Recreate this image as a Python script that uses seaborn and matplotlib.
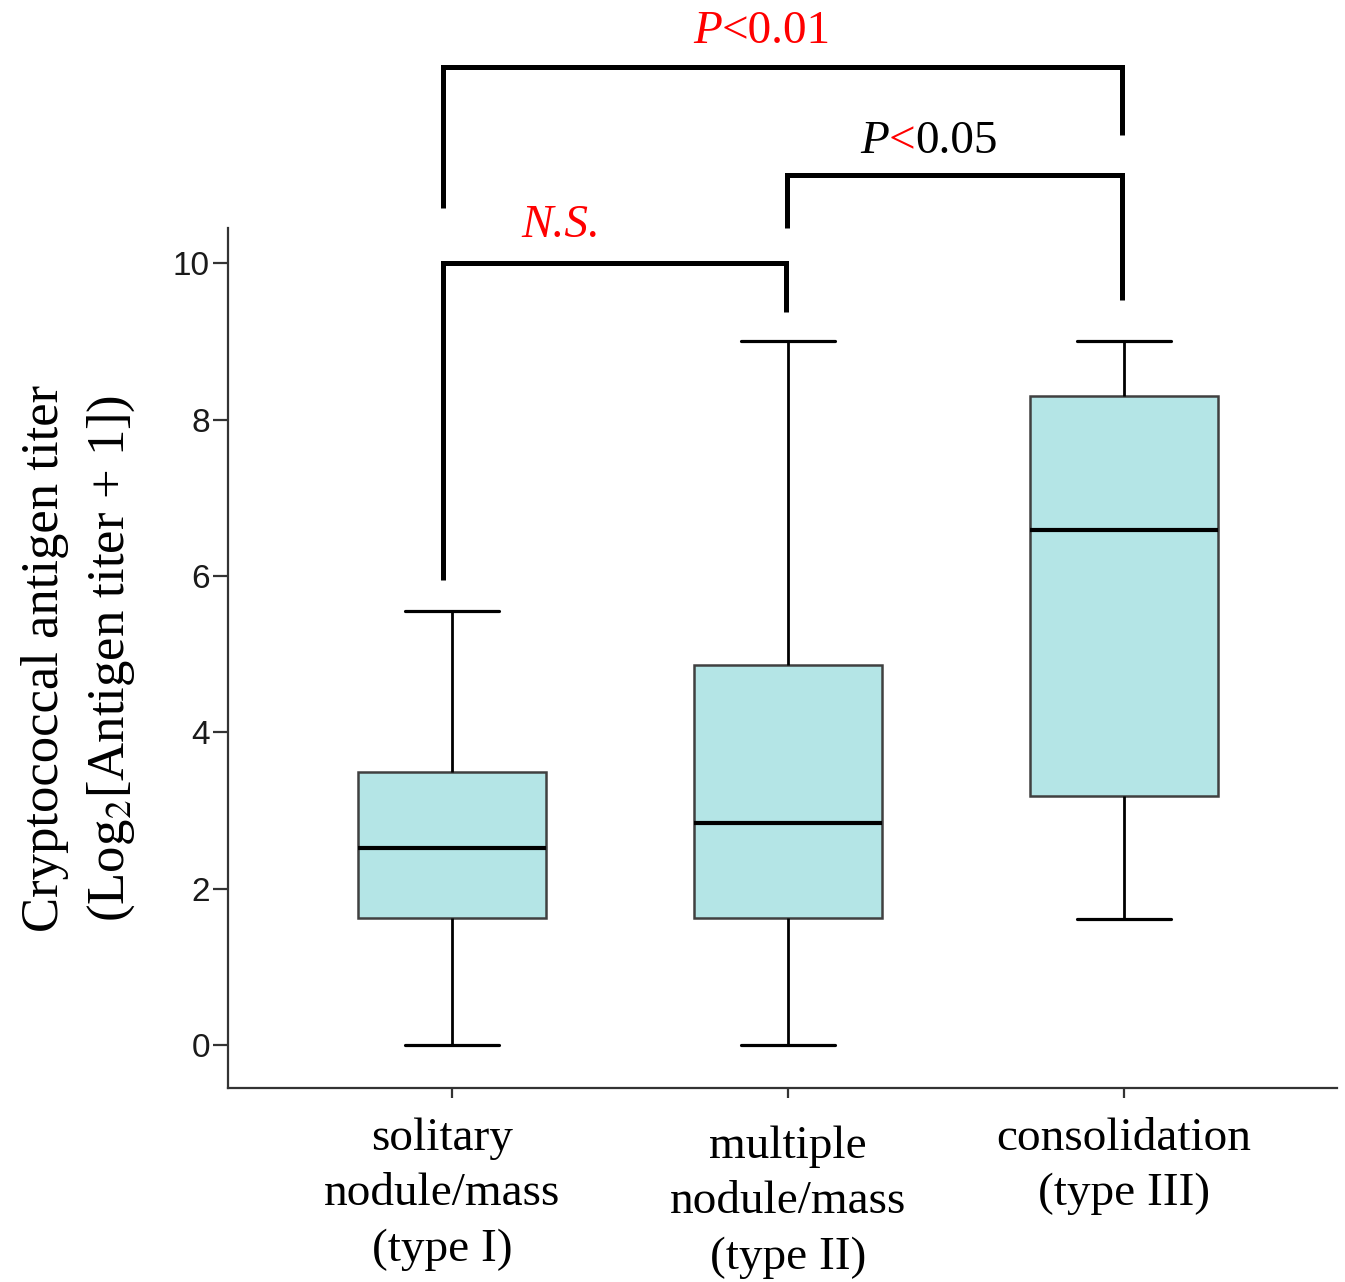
import numpy as np
import pandas as pd
import matplotlib
matplotlib.use("Agg")
import matplotlib.pyplot as plt
import seaborn as sns
from matplotlib.transforms import ScaledTranslation

# ---- data ----
categories = ["solitary\nnodule/mass\n(type I)",
              "multiple\nnodule/mass\n(type II)",
              "consolidation\n(type III)"]
# five-number summaries: min, Q1, median, Q3, max
type_I = [0.0, 1.62, 2.52, 3.49, 5.55]
type_II = [0.0, 1.62, 2.84, 4.86, 9.0]
type_III = [1.61, 3.18, 6.59, 8.30, 9.0]
yticks = [0, 2, 4, 6, 8, 10]
ylabel_text = "Cryptococcal antigen titer\n(Log$_2$[Antigen titer + 1])"

df = pd.DataFrame({
    "group": [categories[0]] * len(type_I) + [categories[1]] * len(type_II) + [categories[2]] * len(type_III),
    "value": type_I + type_II + type_III,
})

sns.set_style("ticks")
plt.rcParams["font.family"] = ["Liberation Serif", "DejaVu Serif"]
plt.rcParams["mathtext.fontset"] = "stix"
plt.rcParams["text.color"] = "black"
plt.rcParams["axes.labelcolor"] = "black"
plt.rcParams["xtick.color"] = "black"
plt.rcParams["ytick.color"] = "black"

fig = plt.figure(figsize=(13.45, 12.82), dpi=100)
ax = fig.add_axes([0.1695, 0.1513, 0.8245, 0.6709])

sns.boxplot(data=df, x="group", y="value", order=categories, ax=ax,
            width=0.557, whis=(0, 100), color="#b4e5e6", saturation=1,
            fliersize=0,
            boxprops=dict(edgecolor="#404040", linewidth=1.8),
            whiskerprops=dict(color="black", linewidth=2.0),
            capprops=dict(color="black", linewidth=2.3),
            medianprops=dict(color="black", linewidth=3.0))

ax.set_xlim(-0.667, 2.634)
ax.set_ylim(-0.55, 10.45)
ax.set_xlabel("")
ax.set_yticks(yticks)
ax.set_yticklabels([str(v) for v in yticks], fontfamily="Liberation Sans", fontsize=24, color="#1a1a1a")
ax.set_ylabel(ylabel_text, fontsize=38, linespacing=1.42, labelpad=26)

for s in ["top", "right"]:
    ax.spines[s].set_visible(False)
for s in ["left", "bottom"]:
    ax.spines[s].set_linewidth(1.6)
    ax.spines[s].set_color("#333333")

ax.tick_params(axis="y", length=11, width=1.6, color="#333333", pad=2)
ax.tick_params(axis="x", length=7, width=1.6, color="#333333", pad=14, labelsize=34)

xl = ax.get_xticklabels()
for lb in xl:
    lb.set_linespacing(1.4)
    lb.set_color("black")
xl[0].set_transform(xl[0].get_transform() + ScaledTranslation(-0.10, 0.0, fig.dpi_scale_trans))
xl[1].set_transform(xl[1].get_transform() + ScaledTranslation(0.0, -0.08, fig.dpi_scale_trans))

# ---- significance brackets ----
def bracket(x0, x1, yh, yl0, yl1):
    ax.plot([x0, x0, x1, x1], [yl0, yh, yh, yl1], color="black", lw=3.6,
            clip_on=False, solid_joinstyle="miter", solid_capstyle="butt")

bracket(-0.027, 0.994, 10.0, 5.95, 9.37)
bracket(0.997, 1.994, 11.13, 10.45, 9.53)
bracket(-0.027, 1.994, 12.51, 10.70, 11.64)

def rich(x, y, parts, size=34):
    t = ax.text(x, y, parts[0][0], color=parts[0][1], style=parts[0][2],
                fontsize=size, ha="left", va="baseline", clip_on=False)
    prev = t
    for s, c, st in parts[1:]:
        prev = ax.annotate(s, xy=(1, 0), xycoords=prev, color=c, style=st,
                           fontsize=size, ha="left", va="bottom", annotation_clip=False)

rich(0.717, 12.81, [("P", "red", "italic"), ("<0.01", "red", "normal")])
rich(1.214, 11.41, [("P", "black", "italic"), ("<", "red", "normal"), ("0.05", "black", "normal")])
ax.text(0.324, 10.33, "N.S.", color="red", style="italic", fontsize=34,
        ha="center", va="baseline", clip_on=False)

fig.savefig("out.png", dpi=100)
